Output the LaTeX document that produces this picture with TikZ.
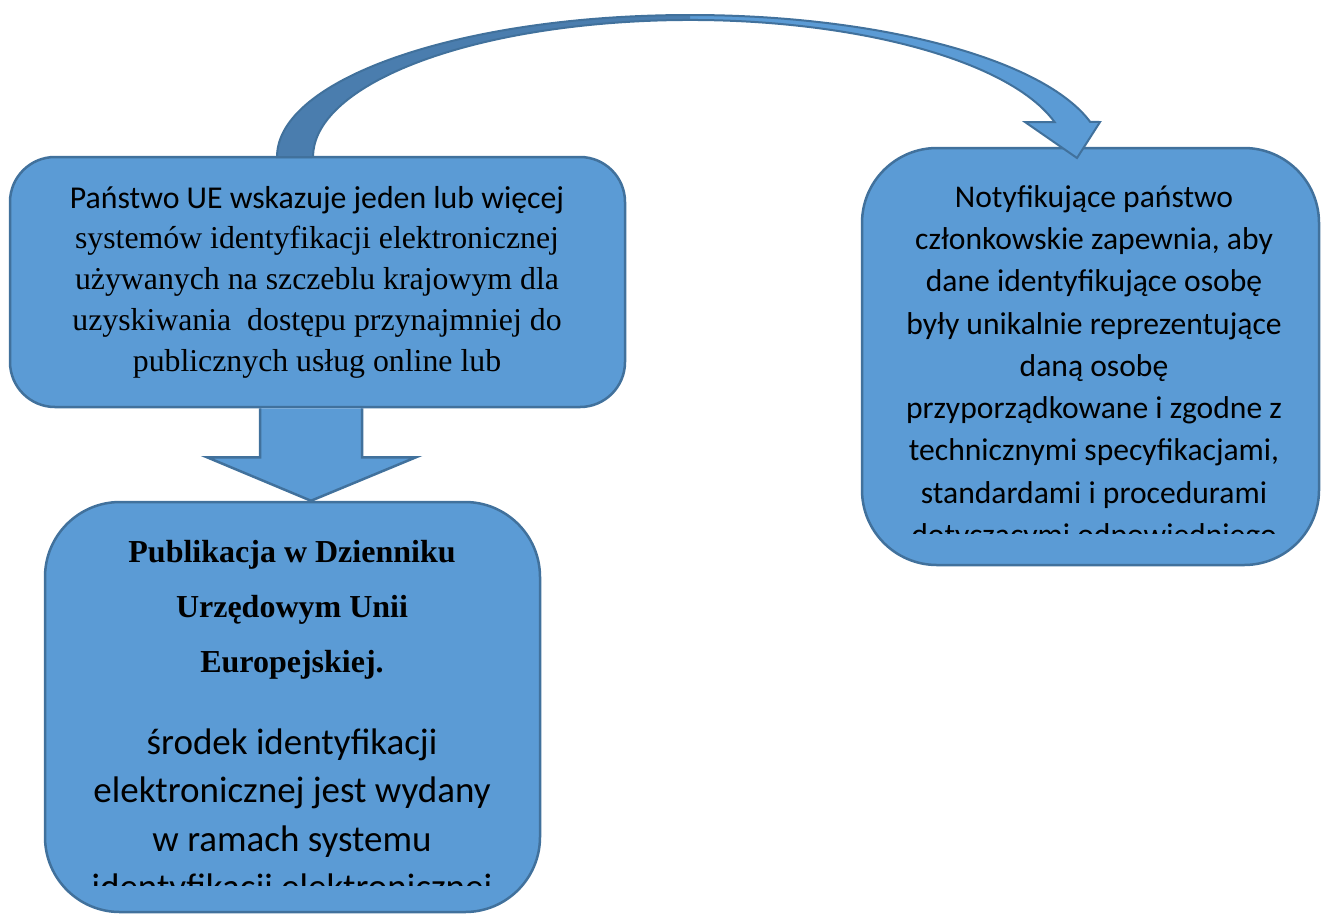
\documentclass[tikz,border=0pt]{standalone}
\usepackage{fontspec}
\setmainfont{Liberation Serif}
\newfontfamily\calibfont{Carlito}
\usetikzlibrary{calc}
\definecolor{boxfill}{HTML}{5B9BD5}
\definecolor{boxline}{HTML}{41719C}
\definecolor{darkfill}{HTML}{4A7DAE}
\begin{document}
\begin{tikzpicture}[x=1pt,y=-1pt,
  panel/.style={draw=boxline, fill=boxfill, line width=2.5pt, inner sep=0pt},
  blockarrow/.style={draw=boxline, fill=boxfill, line width=2.5pt, line join=miter},
  txt/.style={inner sep=0pt, align=center, text=black}]
\useasboundingbox (0,0) rectangle (1321,914);
% boxes
\node[panel, minimum width=615pt, minimum height=250pt, rounded corners=45pt] (src) at (317.5,282) {};
\node[panel, minimum width=457pt, minimum height=417pt, rounded corners=75pt] (notif) at (1090.5,356.5) {};
\node[panel, minimum width=495pt, minimum height=410pt, rounded corners=75pt] (pub) at (292.5,707) {};
% straight block arrow
\coordinate (shaftTop) at ($(src.south)+(-6.5,0)$);
\coordinate (tipA) at (shaftTop |- pub.north);
\fill[boxfill] ($(shaftTop)+(-51,0)$) -- ($(shaftTop)+(-51,49)$) -- ($(shaftTop)+(-104,49)$) -- (tipA) -- ($(shaftTop)+(105,49)$) -- ($(shaftTop)+(51,49)$) -- ($(shaftTop)+(51,0)$) -- cycle;
\draw[blockarrow, fill=none] ($(shaftTop)+(-51,0)$) -- ($(shaftTop)+(-51,49)$) -- ($(shaftTop)+(-104,49)$) -- (tipA) -- ($(shaftTop)+(105,49)$) -- ($(shaftTop)+(51,49)$) -- ($(shaftTop)+(51,0)$);
% curved block arrow
\def\curvepath{(277,157) arc[start angle=180, end angle=345.7, x radius=413, y radius=142] -- (1100,122) -- (1077,158) -- (1025,122) -- (1054.5,122) arc[start angle=345.2, end angle=180, x radius=377, y radius=137] -- cycle}
\fill[boxfill] \curvepath;
\begin{scope}
\clip (0,0) rectangle (690,200);
\fill[darkfill] \curvepath;
\end{scope}
\draw[boxline, line width=2pt, line join=miter] \curvepath;
% texts
\node[txt, font=\fontsize{31.8}{40.8}\selectfont] (srcT) at (317,282) {{\calibfont Państwo UE wskazuje jeden lub więcej}\\ systemów identyfikacji elektronicznej\\ używanych na szczeblu krajowym dla\\ uzyskiwania\ \ dostępu przynajmniej do\\ publicznych usług online lub};
\begin{scope}
\clip (862,148) rectangle (1321,533);
\node[txt, font=\calibfont\fontsize{31.6}{42.25}\selectfont] (notifT) at (1094,368) {Notyfikujące państwo\\ członkowskie zapewnia, aby\\ dane identyfikujące osobę\\ były unikalnie reprezentujące\\ daną osobę\\ przyporządkowane i zgodne z\\ technicznymi specyfikacjami,\\ standardami i procedurami\\ dotyczącymi odpowiedniego};
\end{scope}
\node[txt, font=\bfseries\fontsize{32}{55}\selectfont] (pubT) at (292,610) {Publikacja w Dzienniku\\ Urzędowym Unii\\ Europejskiej.};
\begin{scope}
\clip (45,700) rectangle (540,885);
\node[txt, font=\calibfont\fontsize{37}{48.5}\selectfont] (pubT2) at (292,817.5) {środek identyfikacji\\ elektronicznej jest wydany\\ w ramach systemu\\ identyfikacji elektronicznej};
\end{scope}
\end{tikzpicture}
\end{document}
